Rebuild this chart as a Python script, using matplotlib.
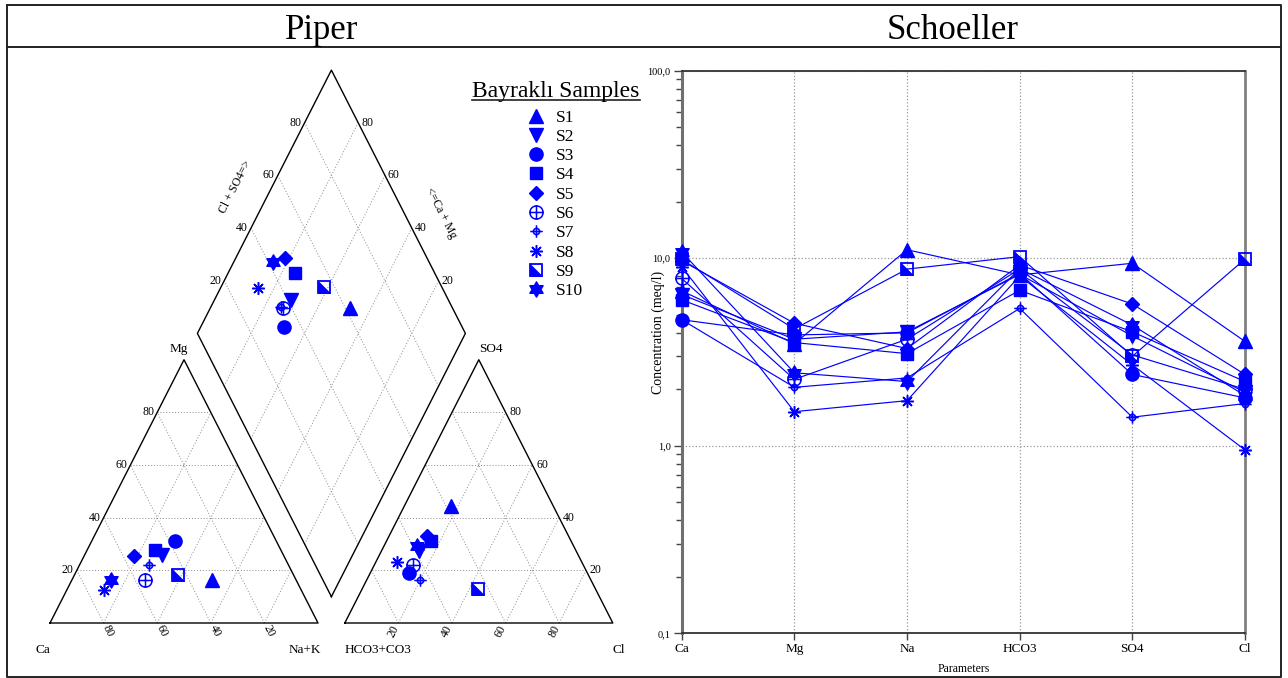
import numpy as np
import matplotlib
matplotlib.use('Agg')
import matplotlib.pyplot as plt
from matplotlib.path import Path
from matplotlib.lines import Line2D
from matplotlib.ticker import FuncFormatter, NullFormatter, LogLocator

plt.rcParams['font.family'] = ['Liberation Serif', 'DejaVu Serif']

samples = ['S1', 'S2', 'S3', 'S4', 'S5', 'S6', 'S7', 'S8', 'S9', 'S10']

# Piper - cations (% meq)
ca_pct = [31.5, 45.3, 37.8, 47.0, 56.0, 56.5, 51.9, 73.5, 43.2, 69.3]
mg_pct = [16.4, 26.0, 31.1, 27.9, 25.6, 16.4, 22.1, 12.4, 18.4, 16.2]
nak_pct = [52.1, 28.7, 31.1, 25.1, 18.4, 27.1, 26.0, 14.1, 38.4, 14.5]
# Piper - anions (% meq)
hco3_pct = [38.3, 58.7, 66.6, 52.1, 53.0, 63.4, 63.8, 68.8, 43.8, 58.3]
so4_pct = [44.5, 27.5, 19.0, 31.1, 33.0, 22.2, 16.4, 23.1, 12.9, 29.4]
cl_pct = [17.2, 13.8, 14.4, 16.8, 14.0, 14.4, 19.8, 8.1, 43.3, 12.3]

# Schoeller (meq/l)
params = ['Ca', 'Mg', 'Na', 'HCO3', 'SO4', 'Cl']
s1 = [6.7, 3.5, 11.1, 8.15, 9.4, 3.6]
s2 = [6.4, 3.7, 4.05, 8.2, 3.85, 1.93]
s3 = [4.7, 3.9, 4.0, 8.3, 2.4, 1.8]
s4 = [6.0, 3.55, 3.1, 6.75, 4.05, 2.2]
s5 = [9.7, 4.5, 3.3, 9.2, 5.7, 2.4]
s6 = [7.8, 2.26, 3.7, 8.75, 3.05, 2.0]
s7 = [4.7, 2.05, 2.3, 5.4, 1.42, 1.68]
s8 = [9.0, 1.52, 1.74, 8.05, 2.7, 0.95]
s9 = [9.85, 4.2, 8.75, 10.2, 3.0, 9.9]
s10 = [10.8, 2.45, 2.2, 8.8, 4.4, 1.85]
schoeller = [s1, s2, s3, s4, s5, s6, s7, s8, s9, s10]

BLUE = '#0000ff'

# custom markers
def seg(p0, p1):
    return Path([p0, p1], [Path.MOVETO, Path.LINETO])

circ = Path.unit_circle()
oplus = Path.make_compound_path(circ, seg((-1, 0), (1, 0)), seg((0, -1), (0, 1)))
small_circ = Path(circ.vertices * 0.5, circ.codes)
crosshair = Path.make_compound_path(small_circ, seg((-1, 0), (1, 0)), seg((0, -1), (0, 1)))
half_tri = Path([(-1, 1), (-1, -1), (1, -1), (-1, 1)],
                [Path.MOVETO, Path.LINETO, Path.LINETO, Path.CLOSEPOLY])
star6 = Path.unit_regular_star(6, 0.577)

styles = [
    [dict(marker='^', ms=9.5)],
    [dict(marker='v', ms=9.5)],
    [dict(marker='o', ms=9.5)],
    [dict(marker='s', ms=8.8)],
    [dict(marker='D', ms=6.8)],
    [dict(marker=oplus, ms=9.5, mfc='none', mew=1.1)],
    [dict(marker=crosshair, ms=9, mfc='none', mew=1.1)],
    [dict(marker=(8, 2, 0), ms=9, mew=1.1)],
    [dict(marker='s', ms=8.8, mfc='none', mew=1.3), dict(marker=half_tri, ms=8.8, mew=0.5)],
    [dict(marker=star6, ms=11)],
]


def draw_marks(ax, x, y, i, scale=1.0, **kw):
    handles = []
    for st in styles[i]:
        st = dict(st)
        st['ms'] = st['ms'] * scale
        st.setdefault('mfc', BLUE)
        st.setdefault('mew', 1.0)
        h, = ax.plot(x, y, ls='none', mec=BLUE, clip_on=False, zorder=4, **st, **kw)
        handles.append(h)
    return handles


W, H = 1288, 678
fig = plt.figure(figsize=(W / 100, H / 100), dpi=100)


def fx(px):
    return px / W


def fy(py):
    return 1 - py / H


# frame and header
frame_kw = dict(color='#222222', lw=1.4, transform=fig.transFigure)
fig.add_artist(Line2D([fx(7), fx(1281), fx(1281), fx(7), fx(7)],
                      [fy(5), fy(5), fy(677), fy(677), fy(5)], **frame_kw))
fig.add_artist(Line2D([fx(7), fx(1281)], [fy(47), fy(47)], **frame_kw))
fig.text(fx(322), fy(39), 'Piper', ha='center', va='baseline', fontsize=25)
fig.text(fx(953), fy(39), 'Schoeller', ha='center', va='baseline', fontsize=25)

# ---------------- Piper ----------------
X0, Y0, SX, SY = 50, 623, 268, 304
pl, pr, pt, pb = 10, 642, 50, 674
axp = fig.add_axes([fx(pl), fy(pb), (pr - pl) / W, (pb - pt) / H])
axp.set_xlim((pl - X0) / SX, (pr - X0) / SX)
axp.set_ylim((Y0 - pb) / SY, (Y0 - pt) / SY)
axp.axis('off')

h = np.sqrt(3) / 2
g = 0.1


def cat_xy(ca, mg, nak):
    t = ca + mg + nak
    return nak / t + 0.5 * mg / t, h * mg / t


def an_xy(hco3, so4, cl):
    t = hco3 + so4 + cl
    return 1 + g + cl / t + 0.5 * so4 / t, h * so4 / t


def dia_xy(camg, clso4):
    a, b = camg / 100, clso4 / 100
    return 1 + g / 2 + 0.5 * (b - a), g * h + h * (a + b)


grid_kw = dict(color='#8a8a8a', lw=0.7, ls=(0, (1, 2)), zorder=1)
edge_kw = dict(color='black', lw=1.0, zorder=2)
tick_fs = 8.5
ang = np.degrees(np.arctan2(h * SY, 0.5 * SX))

for k in [20, 40, 60, 80]:
    f = k / 100
    # cation triangle
    axp.plot([f / 2, 1 - f / 2], [h * f, h * f], **grid_kw)
    axp.plot([f, f + (1 - f) / 2], [0, h * (1 - f)], **grid_kw)
    axp.plot([1 - f, (1 - f) / 2], [0, h * (1 - f)], **grid_kw)
    # anion triangle
    ox = 1 + g
    axp.plot([ox + f / 2, ox + 1 - f / 2], [h * f, h * f], **grid_kw)
    axp.plot([ox + f, ox + f + (1 - f) / 2], [0, h * (1 - f)], **grid_kw)
    axp.plot([ox + 1 - f, ox + (1 - f) / 2], [0, h * (1 - f)], **grid_kw)
    # diamond
    p0, p1 = dia_xy(k, 0), dia_xy(k, 100)
    axp.plot([p0[0], p1[0]], [p0[1], p1[1]], **grid_kw)
    p0, p1 = dia_xy(0, k), dia_xy(100, k)
    axp.plot([p0[0], p1[0]], [p0[1], p1[1]], **grid_kw)

    # tick labels
    axp.annotate(str(k), (f / 2, h * f), xytext=(-3, 0), textcoords='offset pixels',
                 ha='right', va='center', fontsize=tick_fs)
    axp.annotate(str(100 - k), (f, 0), xytext=(2, -3), textcoords='offset pixels',
                 ha='left', va='center', fontsize=tick_fs, rotation=-ang, rotation_mode='anchor')
    axp.annotate(str(k), (ox + f, 0), xytext=(-2, -3), textcoords='offset pixels',
                 ha='right', va='center', fontsize=tick_fs, rotation=ang, rotation_mode='anchor')
    axp.annotate(str(k), (ox + 1 - f / 2, h * f), xytext=(4, 0), textcoords='offset pixels',
                 ha='left', va='center', fontsize=tick_fs)
    axp.annotate(str(k), dia_xy(100, k), xytext=(-3, 0), textcoords='offset pixels',
                 ha='right', va='center', fontsize=tick_fs)
    axp.annotate(str(k), dia_xy(k, 100), xytext=(3, 0), textcoords='offset pixels',
                 ha='left', va='center', fontsize=tick_fs)

# outlines
axp.plot([0, 1, 0.5, 0], [0, 0, h, 0], **edge_kw)
axp.plot([1 + g, 2 + g, 1.5 + g, 1 + g], [0, 0, h, 0], **edge_kw)
corners = [dia_xy(0, 0), dia_xy(0, 100), dia_xy(100, 100), dia_xy(100, 0), dia_xy(0, 0)]
axp.plot([c[0] for c in corners], [c[1] for c in corners], **edge_kw)

# axis names
lab_fs = 9.5
axp.annotate('Mg', (0.5, h), xytext=(-5, 5), textcoords='offset pixels', ha='center', va='bottom', fontsize=lab_fs)
axp.annotate('SO4', (1.5 + g, h), xytext=(0, 5), textcoords='offset pixels', ha='left', va='bottom', fontsize=lab_fs)
axp.annotate('Ca', (0, 0), xytext=(0, -27), textcoords='offset pixels', ha='right', va='center', fontsize=lab_fs)
axp.annotate('Na+K', (1, 0), xytext=(-13, -27), textcoords='offset pixels', ha='center', va='center', fontsize=lab_fs)
axp.annotate('HCO3+CO3', (1 + g, 0), xytext=(0, -27), textcoords='offset pixels', ha='left', va='center', fontsize=lab_fs)
axp.annotate('Cl', (2 + g, 0), xytext=(0, -27), textcoords='offset pixels', ha='left', va='center', fontsize=lab_fs)
axp.annotate('Cl + SO4=>', dia_xy(100, 50), xytext=(-29, 15), textcoords='offset pixels',
             ha='center', va='center', fontsize=8.5, rotation=ang)
axp.annotate('<=Ca + Mg', dia_xy(40, 100), xytext=(29, 15), textcoords='offset pixels',
             ha='center', va='center', fontsize=8.5, rotation=-ang)

legend_handles = []
for i in range(len(samples)):
    cx, cy = cat_xy(ca_pct[i], mg_pct[i], nak_pct[i])
    draw_marks(axp, cx, cy, i)
    axx, ayy = an_xy(hco3_pct[i], so4_pct[i], cl_pct[i])
    draw_marks(axp, axx, ayy, i)
    dx, dy = dia_xy(ca_pct[i] + mg_pct[i], so4_pct[i] + cl_pct[i])
    hs = draw_marks(axp, dx, dy, i)
    legend_handles.append(tuple(hs) if len(hs) > 1 else hs[0])

fig.legend(legend_handles, samples, loc='upper left', bbox_to_anchor=(fx(526), fy(109.5)),
           frameon=False, fontsize=12.5, handlelength=1.2, handletextpad=0.5,
           labelspacing=0.18, borderpad=0, borderaxespad=0)
ttl = fig.text(fx(556), fy(97), 'Bayraklı Samples', ha='center', va='baseline', fontsize=17)
fig.canvas.draw()
bb = ttl.get_window_extent(fig.canvas.get_renderer())
fig.add_artist(Line2D([bb.x0 / W, bb.x1 / W], [fy(99.8), fy(99.8)], color='#222222', lw=1.2,
                      transform=fig.transFigure))

# ---------------- Schoeller ----------------
L, R, T, B = 681.7, 1245, 70.7, 633.3
axs = fig.add_axes([fx(L), fy(B), (R - L) / W, (B - T) / H])
xs = np.arange(len(params))
for i, vals in enumerate(schoeller):
    axs.plot(xs, vals, color=BLUE, lw=0.85, zorder=3)
    draw_marks(axs, xs, vals, i)

axs.set_yscale('log')
axs.set_ylim(0.1, 100)
axs.set_xlim(0, len(params) - 1)
axs.set_xticks(xs, params)
axs.yaxis.set_major_locator(LogLocator(base=10, numticks=10))
axs.yaxis.set_minor_locator(LogLocator(base=10, subs=np.arange(2, 10), numticks=10))
axs.yaxis.set_major_formatter(FuncFormatter(lambda v, p: f'{v:.1f}'.replace('.', ',')))
axs.yaxis.set_minor_formatter(NullFormatter())
axs.grid(True, which='major', ls=':', color='#9a9a9a', lw=0.9)
axs.tick_params(axis='y', which='major', length=6, width=1, labelsize=7.5, pad=2, color='#444444')
axs.tick_params(axis='y', which='minor', length=4, width=1, color='#444444')
axs.tick_params(axis='x', length=5, width=1, labelsize=9.5, pad=2, color='#444444')
axs.spines['left'].set_color('#707070')
axs.spines['left'].set_linewidth(2.2)
axs.spines['right'].set_color('#808080')
axs.spines['right'].set_linewidth(2.0)
axs.spines['top'].set_color('#333333')
axs.spines['top'].set_linewidth(1.3)
axs.spines['bottom'].set_color('#333333')
axs.spines['bottom'].set_linewidth(1.3)
axs.set_ylabel('Concentration (meq/l)', fontsize=10)
axs.yaxis.set_label_coords(-0.029, 0.534)
axs.set_xlabel('Parameters', fontsize=8.5, labelpad=6)

fig.savefig('out.png', dpi=100)
